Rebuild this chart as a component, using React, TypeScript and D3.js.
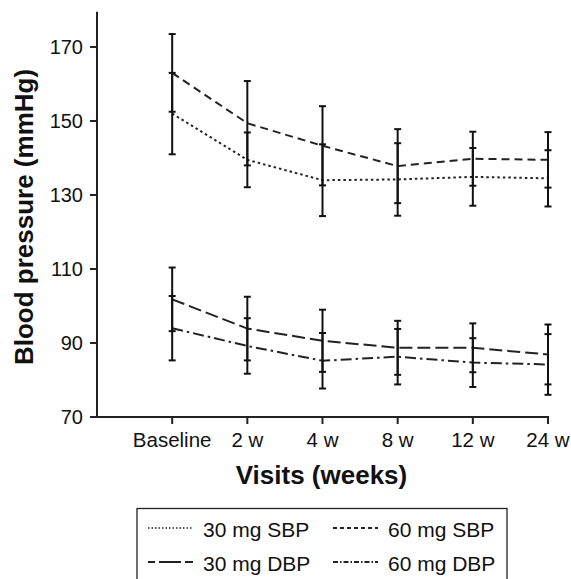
import React from "react";
import * as d3 from "d3";

const visits = ["Baseline", "2 w", "4 w", "8 w", "12 w", "24 w"];
const yTicks = [70, 90, 110, 130, 150, 170];

const sbp30Mean = [152, 139.5, 134, 134.2, 134.9, 134.5];
const sbp30Err = [11, 7.4, 9.7, 9.8, 7.8, 7.6];
const sbp60Mean = [163, 149.4, 143.3, 137.8, 139.8, 139.5];
const sbp60Err = [10.5, 11.4, 10.7, 10, 7.3, 7.5];
const dbp30Mean = [101.8, 93.9, 90.6, 88.7, 88.7, 86.9];
const dbp30Err = [8.6, 8.6, 8.4, 7.3, 6.6, 8.1];
const dbp60Mean = [94, 89.2, 85.2, 86.3, 84.7, 84.2];
const dbp60Err = [8.7, 7.5, 7.5, 7.5, 6.6, 8.2];

const seriesNames = ["30 mg SBP", "60 mg SBP", "30 mg DBP", "60 mg DBP"];

const series = [
  { name: seriesNames[0], mean: sbp30Mean, err: sbp30Err, dash: "2.5,3" },
  { name: seriesNames[1], mean: sbp60Mean, err: sbp60Err, dash: "8,5" },
  { name: seriesNames[2], mean: dbp30Mean, err: dbp30Err, dash: "13,5" },
  { name: seriesNames[3], mean: dbp60Mean, err: dbp60Err, dash: "11,4,2.5,4" },
];

const legendDash = ["1.5,2", "4,3", "22,4", "5,2,1.5,2"];
const legendOffset = [0, 0, 15, 0];

export default function App() {
  const x = d3.scaleLinear().domain([0, 6]).range([97, 548]);
  const y = d3.scaleLinear().domain([70, 180]).range([417, 10]);
  const font = "'Liberation Sans', Arial, sans-serif";
  const line = d3
    .line<number>()
    .x((_, i) => x(i + 1))
    .y((d) => y(d));

  return (
    <svg
      width={571}
      height={579}
      style={{ position: "absolute", left: 0, top: 0, background: "#fff" }}
      fontFamily={font}
    >
      {/* axes */}
      <line x1={97} x2={97} y1={y(179.5)} y2={y(70) + 1} stroke="#222" strokeWidth={2} />
      <line x1={96} x2={x(6) + 1} y1={y(70)} y2={y(70)} stroke="#222" strokeWidth={2} />
      {yTicks.map((t) => (
        <g key={t}>
          <line x1={90} x2={97} y1={y(t)} y2={y(t)} stroke="#222" strokeWidth={2} />
          <text x={83} y={y(t)} dy="0.36em" textAnchor="end" fontSize={20} fill="#111">
            {t}
          </text>
        </g>
      ))}
      {visits.map((v, i) => (
        <g key={v}>
          <line x1={x(i + 1)} x2={x(i + 1)} y1={y(70)} y2={y(70) + 7} stroke="#222" strokeWidth={2} />
          <text x={x(i + 1)} y={447} textAnchor="middle" fontSize={20.5} fill="#111">
            {v}
          </text>
        </g>
      ))}
      <text
        transform={`translate(32.5,217) rotate(-90)`}
        textAnchor="middle"
        fontSize={26}
        fontWeight="bold"
        fill="#111"
      >
        Blood pressure (mmHg)
      </text>
      <text x={321.5} y={484} textAnchor="middle" fontSize={26} fontWeight="bold" fill="#111">
        Visits (weeks)
      </text>

      {/* series lines */}
      {series.map((s) => (
        <path key={s.name} d={line(s.mean) || ""} fill="none" stroke="#222" strokeWidth={2} strokeDasharray={s.dash} />
      ))}
      {/* error bars */}
      {series.map((s) =>
        s.mean.map((m, i) => {
          const cx = x(i + 1);
          const top = y(m + s.err[i]);
          const bot = y(m - s.err[i]);
          return (
            <g key={s.name + i} stroke="#111" strokeWidth={2}>
              <line x1={cx} x2={cx} y1={top} y2={bot} />
              <line x1={cx - 3.5} x2={cx + 3.5} y1={top} y2={top} />
              <line x1={cx - 3.5} x2={cx + 3.5} y1={bot} y2={bot} />
            </g>
          );
        })
      )}

      {/* legend */}
      <rect x={137} y={508.5} width={370} height={80} fill="none" stroke="#222" strokeWidth={1.3} />
      {series.map((s, i) => {
        const col = i % 2;
        const row = Math.floor(i / 2);
        const lx = col === 0 ? 148 : 333;
        const ly = row === 0 ? 528 : 562;
        return (
          <g key={"lg" + s.name}>
            <line
              x1={lx}
              x2={lx + 45}
              y1={ly}
              y2={ly}
              stroke="#222"
              strokeWidth={i === 0 ? 1.3 : 2}
              strokeDasharray={legendDash[i]}
              strokeDashoffset={legendOffset[i]}
            />
            <text x={lx + 55} y={ly + 8.5} fontSize={21} fill="#111">
              {s.name}
            </text>
          </g>
        );
      })}
    </svg>
  );
}
